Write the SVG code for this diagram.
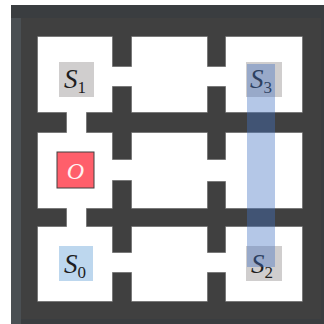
<svg xmlns="http://www.w3.org/2000/svg" xmlns:xlink="http://www.w3.org/1999/xlink" width="324" height="324" viewBox="0 0 324 324">
<style>
.lbl{font-family:"Liberation Serif","DejaVu Serif",serif;font-style:italic;font-size:27px;fill:#1e1e1e}
.sub{font-style:normal;font-size:17px}
.gray{fill:#d0cece}
.blue{fill:#bdd7ee}
</style>
<defs>
<g id="maze">
<rect x="38" y="37" width="74" height="75"/>
<rect x="132" y="37" width="75" height="75"/>
<rect x="226" y="37" width="76" height="75"/>
<rect x="38" y="133" width="74" height="75"/>
<rect x="132" y="133" width="75" height="75"/>
<rect x="226" y="133" width="76" height="75"/>
<rect x="38" y="227" width="74" height="74"/>
<rect x="132" y="227" width="75" height="74"/>
<rect x="226" y="227" width="76" height="74"/>
<rect x="110" y="67" width="24" height="19"/>
<rect x="205" y="67" width="23" height="19"/>
<rect x="110" y="160" width="24" height="20"/>
<rect x="205" y="160" width="23" height="21"/>
<rect x="110" y="253" width="24" height="19"/>
<rect x="205" y="253" width="23" height="19"/>
<rect x="67" y="110" width="19" height="25"/>
<rect x="67" y="206" width="19" height="23"/>
</g>
</defs>
<rect width="324" height="324" fill="#ffffff"/>
<rect x="11" y="5" width="313" height="319" fill="#3a3d40"/>
<rect x="11" y="18" width="10" height="306" fill="#4a4f53"/>
<rect x="21" y="18" width="300" height="301" fill="#404040"/>
<use xlink:href="#maze" fill="#ffffff" stroke="#a0a0a0" stroke-width="1.2"/>
<use xlink:href="#maze" fill="#ffffff"/>
<g id="S1">
<rect class="gray" x="59" y="62" width="35" height="35"/>
<text class="lbl" x="64" y="87.5">S<tspan class="sub" dy="5">1</tspan></text>
</g>
<g id="S3">
<rect class="gray" x="246" y="62" width="36" height="35"/>
<text class="lbl" x="250" y="87.5">S<tspan class="sub" dy="5">3</tspan></text>
</g>
<g id="O">
<rect x="57" y="152" width="37" height="36" fill="#ff5f6b" stroke="#404040" stroke-width="1"/>
<text x="75.5" y="178.5" text-anchor="middle" font-family="Liberation Serif, DejaVu Serif, serif" font-style="italic" font-size="24" fill="#fff2f2">O</text>
</g>
<g id="S0">
<rect class="blue" x="59" y="246" width="34" height="35"/>
<text class="lbl" x="64" y="272.5">S<tspan class="sub" dy="5">0</tspan></text>
</g>
<g id="S2">
<rect class="gray" x="246" y="246" width="36" height="35"/>
<text class="lbl" x="251" y="272.5">S<tspan class="sub" dy="5">2</tspan></text>
</g>
<g id="connectors">
<rect x="247" y="64" width="28" height="203" fill="#4472c4" fill-opacity="0.4"/>
</g>
</svg>
